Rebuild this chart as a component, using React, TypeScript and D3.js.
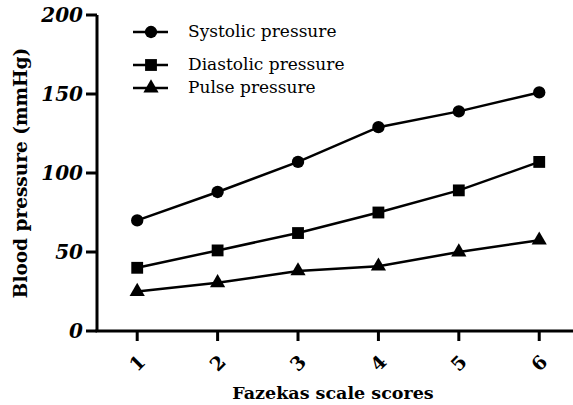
import React from 'react';
import * as d3 from 'd3';

const scores = [1, 2, 3, 4, 5, 6];
const systolic = [70, 88, 107, 129, 139, 151];
const diastolic = [40, 51, 62, 75, 89, 107];
const pulse = [25, 30.5, 38, 41, 50, 57.5];
const yTicks = [0, 50, 100, 150, 200];

const seriesList = [
  { name: 'Systolic pressure', values: systolic, symbol: d3.symbolCircle, size: 120 },
  { name: 'Diastolic pressure', values: diastolic, symbol: d3.symbolSquare, size: 140 },
  { name: 'Pulse pressure', values: pulse, symbol: d3.symbolTriangle, size: 100 },
];

const W = 573;
const H = 405;

const App = () => {
  const x = d3.scaleLinear().domain([0.5, 6.42]).range([97, 573]);
  const y = d3.scaleLinear().domain([0, 200]).range([331, 15]);
  const line = d3.line<number>()
    .x((_, i) => x(scores[i]))
    .y(d => y(d));

  const serif = '"DejaVu Serif", serif';
  const legendY = [32, 65, 88];

  return (
    <svg width={W} height={H} style={{ position: 'absolute', left: 0, top: 0, background: '#fff' }}>
      {/* axes */}
      <line x1={x(0.5)} x2={x(0.5)} y1={y(200)} y2={y(0) + 1} stroke="#000" strokeWidth={3} />
      <line x1={x(0.5) - 1.5} x2={W} y1={y(0)} y2={y(0)} stroke="#000" strokeWidth={3} />
      {yTicks.map(t => (
        <g key={t}>
          <line x1={x(0.5) - 11} x2={x(0.5)} y1={y(t)} y2={y(t)} stroke="#000" strokeWidth={3} />
          <text x={x(0.5) - 14} y={y(t)} dy="0.35em" textAnchor="end"
            fontFamily={serif} fontWeight="bold" fontStyle="italic" fontSize={20}>{t}</text>
        </g>
      ))}
      {scores.map(s => (
        <g key={s}>
          <line x1={x(s)} x2={x(s)} y1={y(0)} y2={y(0) + 10} stroke="#000" strokeWidth={3} />
          <text transform={`translate(${x(s)},${y(0) + 32}) rotate(-45)`} textAnchor="middle" dy="0.35em"
            fontFamily={serif} fontWeight="bold" fontSize={19}>{s}</text>
        </g>
      ))}
      <text x={333} y={399} textAnchor="middle" fontFamily={serif} fontWeight="bold" fontSize={17.5}>
        Fazekas scale scores
      </text>
      <text transform={`translate(27,${(y(0) + y(200)) / 2}) rotate(-90)`} textAnchor="middle"
        fontFamily={serif} fontWeight="bold" fontSize={18.5}>
        Blood pressure (mmHg)
      </text>

      {/* series */}
      {seriesList.map(s => (
        <g key={s.name}>
          <path d={line(s.values) ?? ''} fill="none" stroke="#000" strokeWidth={2.5} />
          {s.values.map((v, i) => (
            <path key={i} transform={`translate(${x(scores[i])},${y(v)})`}
              d={d3.symbol(s.symbol, s.size)() ?? ''} fill="#000" />
          ))}
        </g>
      ))}

      {/* legend */}
      {seriesList.map((s, i) => (
        <g key={s.name} transform={`translate(0,${legendY[i]})`}>
          <line x1={133} x2={168} y1={0} y2={0} stroke="#000" strokeWidth={2.5} />
          <path transform="translate(151,0)" d={d3.symbol(s.symbol, s.size)() ?? ''} fill="#000" />
          <text x={188} y={0} dy="0.3em" fontFamily={serif} fontSize={17}>{s.name}</text>
        </g>
      ))}
    </svg>
  );
};

export default App;
